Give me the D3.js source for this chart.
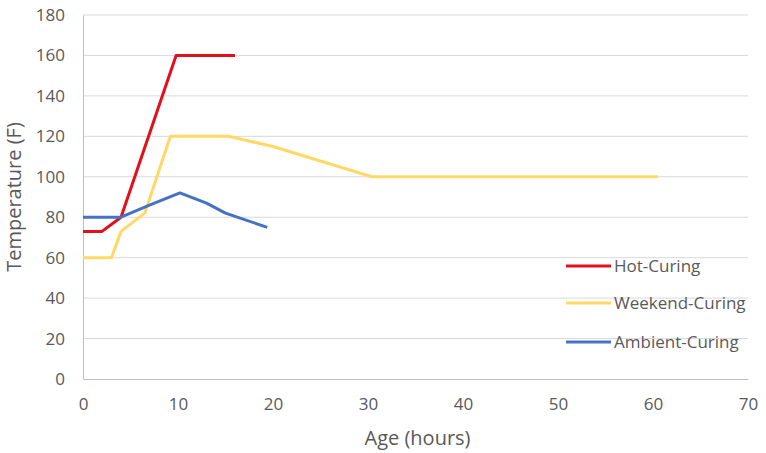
<!DOCTYPE html>
<html>
<head>
<meta charset="utf-8">
<script src="https://cdn.jsdelivr.net/npm/d3@7"></script>
<style>
  body { margin: 0; background: #fff; }
  text { font-family: "Open Sans", "Liberation Sans", sans-serif; fill: #595959; }
</style>
</head>
<body>
<script>
const W = 766, H = 453;
const plotLeft = 83, plotRight = 748, plotTop = 15, plotBottom = 379;

// data
const hotAge = [0, 2, 4, 9.8, 16];
const hotTemp = [73, 73, 80, 160, 160];
const weekendAge = [0, 3, 4, 6.5, 9.2, 15.3, 20, 30.4, 60.5];
const weekendTemp = [60, 60, 73, 82, 120, 120, 115, 100, 100];
const ambientAge = [0, 4, 7, 10.2, 13, 15, 19.4];
const ambientTemp = [80, 80, 86, 92, 87, 82, 75];
const xTicks = [0, 10, 20, 30, 40, 50, 60, 70];
const yTicks = [0, 20, 40, 60, 80, 100, 120, 140, 160, 180];

const series = [
  { name: "Hot-Curing", age: hotAge, temp: hotTemp, color: "#e2101c" },
  { name: "Weekend-Curing", age: weekendAge, temp: weekendTemp, color: "#ffd966" },
  { name: "Ambient-Curing", age: ambientAge, temp: ambientTemp, color: "#4472c4" }
];

const svg = d3.select("body").append("svg")
  .attr("width", W)
  .attr("height", H);

const x = d3.scaleLinear().domain([0, 70]).range([plotLeft, plotRight]);
const y = d3.scaleLinear().domain([0, 180]).range([plotBottom, plotTop]);

// gridlines
svg.append("g")
  .selectAll("line")
  .data(yTicks.filter(d => d > 0))
  .join("line")
  .attr("x1", plotLeft).attr("x2", plotRight)
  .attr("y1", d => y(d)).attr("y2", d => y(d))
  .attr("stroke", "#d9d9d9")
  .attr("stroke-width", 1);

// axes
const yAxis = svg.append("g")
  .attr("transform", `translate(${plotLeft},0)`)
  .call(d3.axisLeft(y).tickValues(yTicks).tickSize(0).tickPadding(18));
yAxis.select(".domain").attr("stroke", "#bfbfbf");

const xAxis = svg.append("g")
  .attr("transform", `translate(0,${plotBottom})`)
  .call(d3.axisBottom(x).tickValues(xTicks).tickSize(0).tickPadding(19));
xAxis.select(".domain").attr("stroke", "#bfbfbf");

svg.selectAll(".tick text")
  .attr("font-size", 17)
  .attr("fill", "#595959")
  .style("font-family", '"Open Sans", "Liberation Sans", sans-serif');

// lines
const line = d3.line().x(d => x(d[0])).y(d => y(d[1]));
series.forEach(s => {
  svg.append("path")
    .datum(s.age.map((a, i) => [a, s.temp[i]]))
    .attr("d", line)
    .attr("fill", "none")
    .attr("stroke", s.color)
    .attr("stroke-width", 3)
    .attr("stroke-linejoin", "round");
});

// legend
const legendY = [266, 303, 342];
series.forEach((s, i) => {
  svg.append("line")
    .attr("x1", 566).attr("x2", 611)
    .attr("y1", legendY[i]).attr("y2", legendY[i])
    .attr("stroke", s.color)
    .attr("stroke-width", 3);
  svg.append("text")
    .attr("x", 614).attr("y", legendY[i] + 6)
    .attr("font-size", 17)
    .text(s.name);
});

// axis titles
svg.append("text")
  .attr("x", (plotLeft + plotRight) / 2 + 2).attr("y", 445)
  .attr("text-anchor", "middle")
  .attr("font-size", 20)
  .text("Age (hours)");

svg.append("text")
  .attr("transform", `translate(21,${(plotTop + plotBottom) / 2}) rotate(-90)`)
  .attr("text-anchor", "middle")
  .attr("font-size", 20)
  .text("Temperature (F)");
</script>
</body>
</html>
